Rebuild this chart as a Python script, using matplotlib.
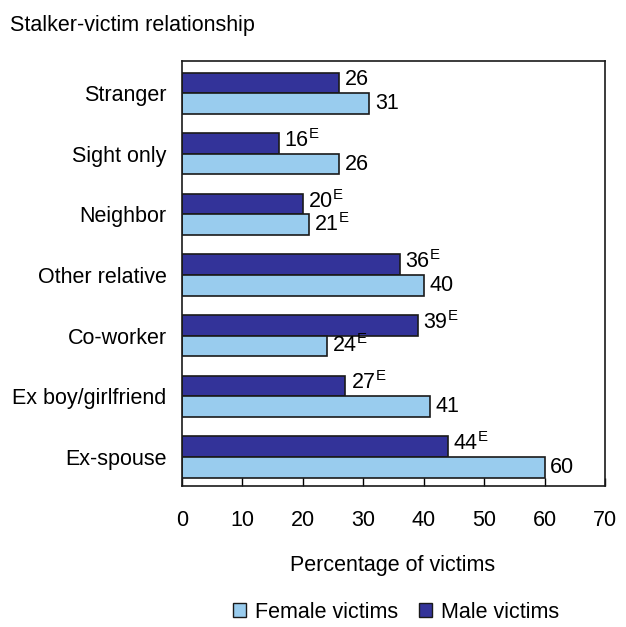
import matplotlib.pyplot as plt
import numpy as np
from matplotlib.patches import Patch

plt.rcParams['font.family'] = ['Liberation Sans', 'DejaVu Sans']
plt.rcParams['mathtext.fontset'] = 'custom'
plt.rcParams['mathtext.rm'] = 'Liberation Sans'

# Data
categories = ['Stranger', 'Sight only', 'Neighbor', 'Other relative',
              'Co-worker', 'Ex boy/girlfriend', 'Ex-spouse']
male = [26, 16, 20, 36, 39, 27, 44]
male_e = [False, True, True, True, True, True, True]
female = [31, 26, 21, 40, 24, 41, 60]
female_e = [False, False, True, False, True, False, False]

male_color = '#333399'
female_color = '#99CCEE'
fs = 15.5

fig = plt.figure(figsize=(6.26, 6.27), dpi=100)
ax = fig.add_axes([0.2907, 0.2249, 0.6758, 0.6778])

y = np.arange(len(categories))
h = 0.34
ax.barh(y - h / 2, male, height=h, color=male_color, edgecolor='#1a1a1a', linewidth=1.2)
ax.barh(y + h / 2, female, height=h, color=female_color, edgecolor='#1a1a1a', linewidth=1.2)


def lab(v, e):
    return f'{v}' + (r'$^{\mathrm{E}}$' if e else '')


for i in range(len(categories)):
    ax.text(male[i] + 0.9, y[i] - h / 2 - 0.05, lab(male[i], male_e[i]), va='center', ha='left', fontsize=fs)
    ax.text(female[i] + 0.9, y[i] + h / 2, lab(female[i], female_e[i]), va='center', ha='left', fontsize=fs)

ax.set_xlim(0, 70)
ax.set_ylim(6.48, -0.53)
ax.set_yticks(y)
ax.set_yticklabels(categories, fontsize=fs)
ax.tick_params(axis='y', length=0, pad=11)
ax.set_xticks(range(0, 71, 10))
ax.tick_params(axis='x', direction='in', length=6, width=1, pad=17, labelsize=fs)
for s in ax.spines.values():
    s.set_linewidth(1.2)
    s.set_color('#1a1a1a')

fig.text(10 / 626, 1 - 25 / 627, 'Stalker-victim relationship', fontsize=fs, va='center', ha='left')
fig.text(393 / 626, 1 - 565 / 627, 'Percentage of victims', fontsize=fs, va='center', ha='center')

handles = [Patch(facecolor=female_color, edgecolor='#1a1a1a', label='Female victims'),
           Patch(facecolor=male_color, edgecolor='#1a1a1a', label='Male victims')]
fig.legend(handles=handles, loc='center', bbox_to_anchor=(396 / 626, 1 - 612 / 627), ncol=2,
           frameon=False, fontsize=fs, handlelength=0.6, handleheight=0.6,
           handletextpad=0.4, columnspacing=1.0)

fig.savefig('out.png', dpi=100, facecolor='white')
